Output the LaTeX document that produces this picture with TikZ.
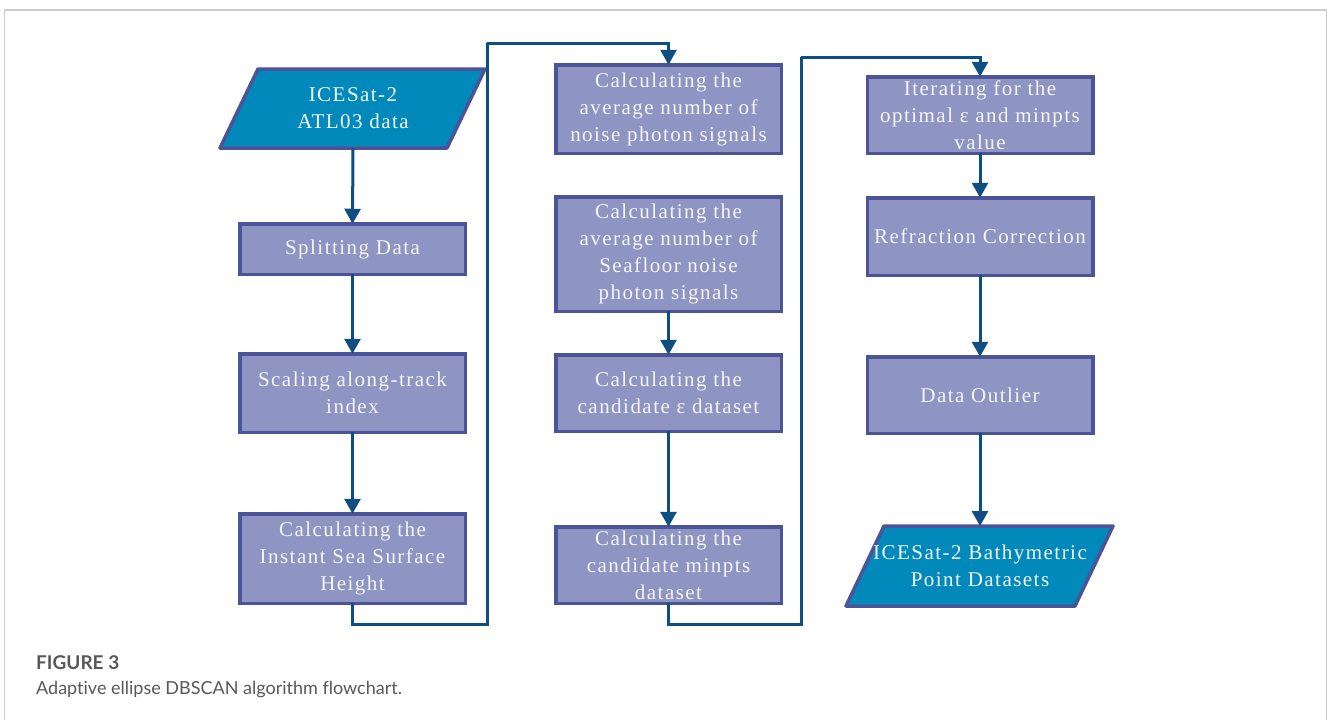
\documentclass[tikz,border=0pt]{standalone}
\usepackage{fontspec}
\usetikzlibrary{arrows.meta}
\newfontfamily\boxfont[LetterSpace=7]{Liberation Serif}
\newfontfamily\capfont[Ligatures={NoCommon,NoRare}]{Lato}
\definecolor{boxfill}{RGB}{143,149,195}
\definecolor{boxdraw}{RGB}{74,84,150}
\definecolor{parafill}{RGB}{0,137,186}
\definecolor{conncol}{RGB}{14,78,128}
\definecolor{framecol}{RGB}{204,204,204}
\definecolor{captxt}{RGB}{88,88,88}
\definecolor{boxtxt}{RGB}{245,245,245}
\begin{document}
\begin{tikzpicture}[x=1pt,y=-1pt,
  stepbox/.style={draw=boxdraw, fill=boxfill, line width=3.5pt,
    minimum width=225.5pt, align=center, inner sep=0pt, outer sep=0pt,
    text=boxtxt, font=\boxfont\fontsize{21}{27}\selectfont},
  paratext/.style={minimum width=190pt, align=center, inner sep=0pt, outer sep=0pt,
    text=boxtxt, font=\boxfont\fontsize{21}{27}\selectfont},
  parashape/.style={draw=boxdraw, fill=parafill, line width=3.5pt, line join=round},
  conn/.style={draw=conncol, line width=3pt},
  arr/.style={conn, -{Triangle[width=16pt,length=15pt]}},
  frameline/.style={draw=framecol, line width=1.5pt}
]
\useasboundingbox (0,0) rectangle (1328,720);
\draw[frameline] (4.5,720) -- (4.5,10) -- (1326.5,10) -- (1326.5,720);

% column 1
\draw[parashape] (258,69) -- (485,69) -- (447,148) -- (220,148) -- cycle;
\node[paratext, minimum height=79pt] (in) at (353,108.5) {ICESat-2\\ATL03 data};
\node[stepbox, minimum height=50.5pt] (split) at (352.5,249) {Splitting Data};
\node[stepbox, minimum height=78.5pt] (scale) at (352.5,393) {Scaling along-track\\index};
\node[stepbox, minimum height=89.5pt] (ssh) at (352.5,558.5) {Calculating the\\Instant Sea Surface\\Height};

% column 2
\node[stepbox, minimum height=88.5pt] (nav) at (668.5,109) {Calculating the\\average number of\\noise photon signals};
\node[stepbox, minimum height=114.5pt] (sea) at (668.5,254) {Calculating the\\average number of\\Seafloor noise\\photon signals};
\node[stepbox, minimum height=76.5pt] (eps) at (668.5,393) {Calculating the\\candidate ε dataset};
\node[stepbox, minimum height=76.5pt] (mpt) at (668.5,565) {Calculating the\\candidate minpts\\dataset};

% column 3
\node[stepbox, minimum height=76.5pt] (iter) at (980,115) {Iterating for the\\optimal ε and minpts\\value};
\node[stepbox, minimum height=77.5pt] (refr) at (980,236.5) {Refraction Correction};
\node[stepbox, minimum height=76.5pt] (outl) at (980,395) {Data Outlier};
\draw[parashape] (884,526) -- (1113,526) -- (1075,606) -- (846,606) -- cycle;
\node[paratext, minimum height=80pt] (out) at (980,566) {ICESat-2 Bathymetric\\Point Datasets};

% connectors
\coordinate (k1) at (487,624);
\coordinate (k2) at (487,43);
\coordinate (k3) at (801,624);
\coordinate (k4) at (801,57);

\draw[arr] (in.south) -- (split.north);
\draw[arr] (split.south) -- (scale.north);
\draw[arr] (scale.south) -- (ssh.north);
\draw[conn] (ssh.south) |- (k1) -- (k2);
\draw[arr] (k2) -| (nav.north);
\draw[arr] (sea.south) -- (eps.north);
\draw[arr] (eps.south) -- (mpt.north);
\draw[conn] (mpt.south) |- (k3) -- (k4);
\draw[arr] (k4) -| (iter.north);
\draw[arr] (iter.south) -- (refr.north);
\draw[arr] (refr.south) -- (outl.north);
\draw[arr] (outl.south) -- (out.north);

% caption
\node[anchor=base west, inner sep=0pt, text=captxt, font=\capfont\bfseries\fontsize{19}{22}\selectfont] (figlab) at (36,669) {FIGURE 3};
\node[anchor=base west, inner sep=0pt, text=captxt, font=\capfont\fontsize{18}{22}\selectfont] (figcap) at (36,694) {Adaptive ellipse DBSCAN algorithm flowchart.};
\end{tikzpicture}
\end{document}
